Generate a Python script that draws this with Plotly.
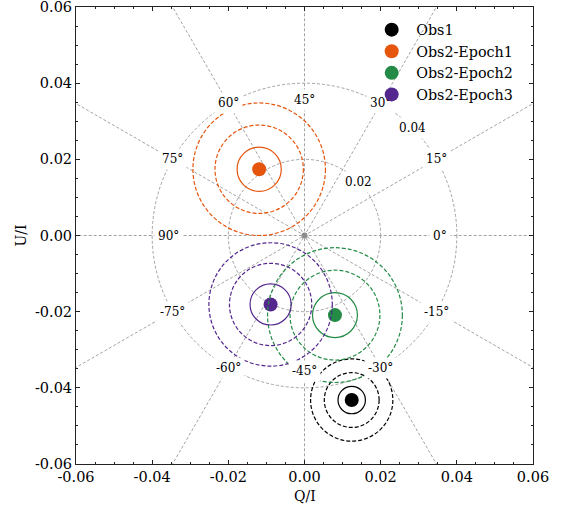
import numpy as np
import plotly.graph_objects as go

# ---- data ----
names = ["Obs1", "Obs2-Epoch1", "Obs2-Epoch2", "Obs2-Epoch3"]
q_vals = [0.0124, -0.0119, 0.0080, -0.0089]
u_vals = [-0.0432, 0.0174, -0.0209, -0.0181]
sigma_vals = [0.0036, 0.0058, 0.0059, 0.0054]
colors = ["#000000", "#e6550d", "#238b45", "#54278f"]

tick_vals = [-0.06, -0.04, -0.02, 0.00, 0.02, 0.04, 0.06]
tick_text = ["-0.06", "-0.04", "-0.02", "0.00", "0.02", "0.04", "0.06"]

grid_radii = [0.02, 0.04]
grid_radius_labels = ["0.02", "0.04"]
pa_lines = [0, 15, 30, 45, 60, 75]
pa_labels = [-75, -60, -45, -30, -15, 0, 15, 30, 45, 60, 75, 90]

FONT = "DejaVu Serif"
GRID = "#8c8c8c"

fig = go.Figure()

# radial grid lines (polarisation angle PA -> direction 2*PA)
L = 0.1
for pa in pa_lines:
    a = np.deg2rad(2 * pa)
    fig.add_trace(go.Scatter(x=[-L * np.cos(a), L * np.cos(a)],
                             y=[-L * np.sin(a), L * np.sin(a)],
                             mode="lines", line=dict(color=GRID, width=0.8, dash="3px,2px"),
                             showlegend=False, hoverinfo="skip"))

# centre dot
fig.add_trace(go.Scatter(x=[0], y=[0], mode="markers",
                         marker=dict(color="#8c8c8c", size=6), showlegend=False, hoverinfo="skip"))

shapes = []
for r in grid_radii:
    shapes.append(dict(type="circle", xref="x", yref="y", x0=-r, y0=-r, x1=r, y1=r,
                       line=dict(color=GRID, width=0.8, dash="3px,2px"), layer="below"))

# data points with 1, 2, 3 sigma circles
for name, q, u, s, c in zip(names, q_vals, u_vals, sigma_vals, colors):
    fig.add_trace(go.Scatter(x=[q], y=[u], mode="markers", name="\u00a0" + name,
                             marker=dict(color=c, size=14, line=dict(width=0)),
                             hoverinfo="skip"))
    for k in (1, 2, 3):
        rr = k * s
        shapes.append(dict(type="circle", xref="x", yref="y",
                           x0=q - rr, y0=u - rr, x1=q + rr, y1=u + rr,
                           line=dict(color=c, width=1.2, dash="solid" if k == 1 else "4px,2px"),
                           layer="above"))

annotations = []
for pa in pa_labels:
    a = np.deg2rad(2 * pa)
    r = 0.0357 if pa % 45 == 0 else 0.0401
    annotations.append(dict(x=r * np.cos(a), y=r * np.sin(a), xref="x", yref="y",
                            text=f"{pa}°", showarrow=False, bgcolor="white", borderpad=3,
                            font=dict(family=FONT, size=12, color="black")))
for r, lab in zip(grid_radii, grid_radius_labels):
    a = np.deg2rad(45)
    annotations.append(dict(x=r * np.cos(a), y=r * np.sin(a), xref="x", yref="y",
                            text=lab, showarrow=False, bgcolor="white", borderpad=3,
                            font=dict(family=FONT, size=12, color="black")))
annotations.append(dict(x=0.5, y=-0.070, xref="paper", yref="paper", text="Q/I",
                        showarrow=False, font=dict(family=FONT, size=14, color="black"),
                        xanchor="center", yanchor="middle"))
annotations.append(dict(x=-0.1225, y=0.5, xref="paper", yref="paper", text="U/I",
                        showarrow=False, textangle=-90,
                        font=dict(family=FONT, size=14, color="black"),
                        xanchor="center", yanchor="middle"))

axis_common = dict(range=[-0.06, 0.06], tickvals=tick_vals, ticktext=tick_text,
                   showgrid=False, zeroline=False, showline=True, linecolor="#222",
                   linewidth=1, mirror="allticks", ticks="inside", ticklen=4,
                   tickcolor="#222", tickwidth=1, ticklabeloverflow="allow",
                   tickfont=dict(family=FONT, size=14.5, color="black"),
                   minor=dict(ticks="inside", ticklen=2, dtick=0.005, tick0=0,
                              tickcolor="#222", tickwidth=1),
                   fixedrange=True)

fig.update_layout(
    width=566, height=508,
    margin=dict(l=76, r=33, t=7, b=44, autoexpand=False),
    paper_bgcolor="white", plot_bgcolor="white",
    xaxis=axis_common, yaxis=axis_common,
    shapes=shapes, annotations=annotations,
    showlegend=True,
    legend=dict(x=0.647, y=0.985, xanchor="left", yanchor="top",
                bgcolor="rgba(0,0,0,0)", borderwidth=0,
                font=dict(family=FONT, size=14.3, color="black"),
                tracegroupgap=0, itemwidth=30),
    font=dict(family=FONT),
)

# draw the legend above the angle labels, as in the reference
post = """
var lg = document.querySelector('g.legend');
if (lg && lg.parentNode) { lg.parentNode.appendChild(lg); }
"""
fig.write_html("out.html", post_script=post)
